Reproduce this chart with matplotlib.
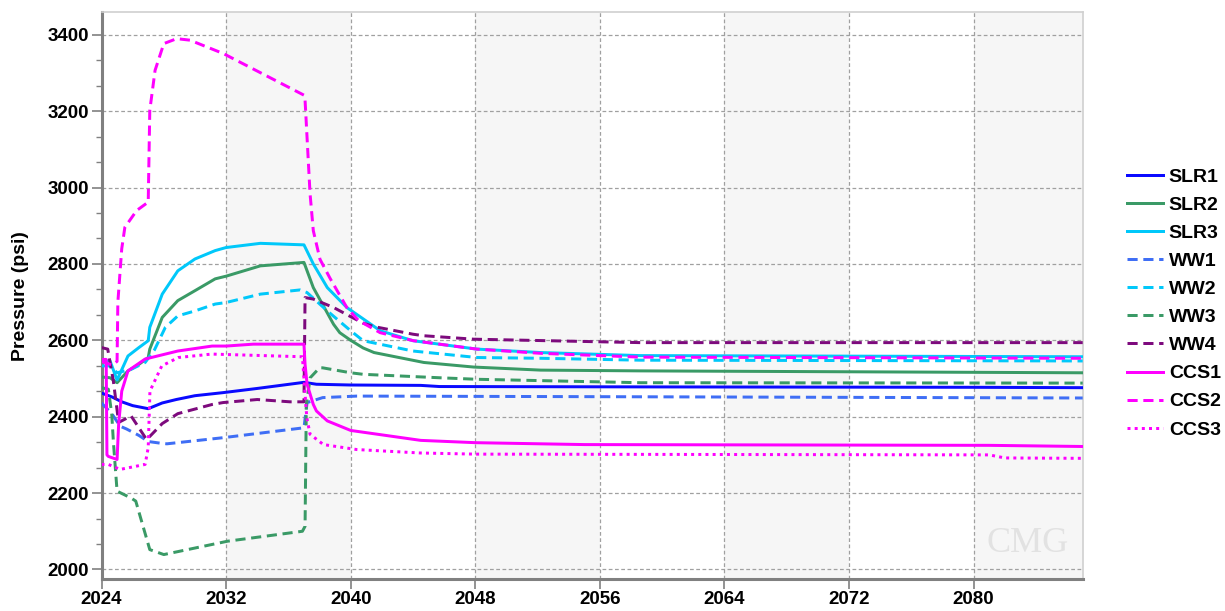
import matplotlib
matplotlib.use("Agg")
import matplotlib.pyplot as plt

plt.rcParams['font.family'] = ['Liberation Sans', 'DejaVu Sans']

# ---------------- data ----------------
slr1_x = [2024.0, 2024.66, 2025.3, 2026.0, 2027.0, 2027.9, 2028.8, 2030.0, 2031.8, 2034.0, 2037.0, 2037.8, 2040.0, 2044.5, 2045.7, 2060, 2080, 2087]
slr1_y = [2462, 2452, 2439, 2429, 2421, 2436, 2445, 2455, 2463, 2474, 2490, 2485, 2483, 2482, 2479, 2478, 2477, 2476]

slr2_x = [2024.0, 2024.55, 2025.0, 2025.7, 2026.4, 2027.0, 2027.1, 2027.9, 2028.9, 2030.0, 2031.3, 2032.0, 2034.2, 2037.0, 2037.6, 2038.9, 2039.3, 2040.0, 2040.8, 2041.5, 2044.7, 2047.9, 2052.2, 2058.6, 2070, 2087]
slr2_y = [2504, 2502, 2489, 2520, 2537, 2555, 2577, 2660, 2704, 2730, 2761, 2768, 2795, 2804, 2738, 2642, 2620, 2600, 2580, 2568, 2542, 2530, 2522, 2520, 2518, 2515]

slr3_x = [2024.0, 2024.55, 2025.0, 2025.7, 2026.4, 2027.0, 2027.1, 2027.9, 2028.9, 2030.0, 2031.3, 2032.0, 2034.2, 2037.0, 2037.6, 2038.5, 2039.75, 2041.9, 2044.0, 2048.1, 2052.2, 2058.6, 2087]
slr3_y = [2546, 2546, 2496, 2559, 2581, 2599, 2634, 2721, 2782, 2813, 2835, 2843, 2854, 2850, 2800, 2738, 2686, 2625, 2599, 2577, 2568, 2560, 2557]

ww1_x = [2024.0, 2024.66, 2025.2, 2025.6, 2026.4, 2027.0, 2027.9, 2028.2, 2031.8, 2037.0, 2037.2, 2038.2, 2040.4, 2060, 2087]
ww1_y = [2436, 2408, 2375, 2368, 2351, 2335, 2330, 2329, 2345, 2371, 2437, 2450, 2454, 2452, 2449]

ww2_x = [2024.0, 2024.55, 2025.0, 2025.9, 2026.8, 2027.4, 2028.1, 2028.9, 2030.0, 2031.3, 2032.0, 2034.2, 2036.75, 2037.2, 2038.5, 2040.0, 2040.8, 2044.0, 2048.1, 2052.2, 2058.6, 2087]
ww2_y = [2533, 2533, 2515, 2524, 2542, 2575, 2634, 2664, 2677, 2695, 2699, 2721, 2732, 2725, 2677, 2625, 2599, 2572, 2555, 2553, 2548, 2546]

ww3_x = [2024.0, 2024.44, 2024.66, 2024.76, 2025.0, 2025.9, 2026.2, 2027.1, 2028.0, 2032.1, 2036.9, 2037.07, 2037.15, 2037.4, 2038.0, 2038.2, 2040.0, 2040.8, 2045.7, 2048.1, 2058.6, 2087]
ww3_y = [2476, 2472, 2406, 2336, 2205, 2187, 2179, 2052, 2039, 2074, 2100, 2113, 2430, 2502, 2528, 2528, 2515, 2511, 2502, 2498, 2489, 2488]

ww4_x = [2024.0, 2024.4, 2024.76, 2025.1, 2025.9, 2026.9, 2027.9, 2028.9, 2031.1, 2031.8, 2034.0, 2036.1, 2037.0, 2037.07, 2037.6, 2038.9, 2040.0, 2040.8, 2041.5, 2044.0, 2044.7, 2047.9, 2058.6, 2087]
ww4_y = [2581, 2577, 2494, 2385, 2402, 2340, 2382, 2408, 2432, 2437, 2445, 2439, 2439, 2712, 2708, 2686, 2662, 2645, 2636, 2616, 2612, 2603, 2594, 2594]

ccs1_x = [2024.0, 2024.3, 2024.35, 2024.44, 2025.0, 2025.1, 2025.3, 2025.7, 2026.8, 2028.9, 2031.1, 2032.0, 2033.75, 2037.0, 2037.07, 2037.2, 2037.6, 2037.8, 2038.5, 2040.0, 2044.5, 2048.0, 2055.0, 2081.0, 2087]
ccs1_y = [2550, 2550, 2300, 2296, 2288, 2380, 2467, 2520, 2551, 2572, 2585, 2585, 2590, 2590, 2537, 2485, 2432, 2415, 2389, 2364, 2338, 2332, 2327, 2325, 2322]

ccs2_x = [2024.0, 2024.7, 2025.0, 2025.05, 2025.3, 2025.5, 2026.26, 2027.0, 2027.1, 2027.44, 2028.0, 2028.83, 2029.68, 2031.82, 2037.0, 2037.07, 2037.39, 2037.6, 2038.03, 2038.68, 2039.75, 2040.5, 2041.89, 2044.03, 2048.1, 2052.2, 2058.6, 2087]
ccs2_y = [2545, 2535, 2545, 2700, 2840, 2896, 2940, 2962, 3202, 3307, 3377, 3390, 3386, 3351, 3242, 3229, 2984, 2887, 2812, 2762, 2686, 2652, 2620, 2599, 2577, 2566, 2556, 2553]

ccs3_x = [2024.0, 2024.44, 2025.2, 2026.8, 2027.0, 2027.11, 2027.87, 2028.93, 2031.08, 2036.9, 2037.18, 2037.39, 2038.25, 2040.39, 2044.46, 2048.0, 2081.0, 2082.0, 2087]
ccs3_y = [2275, 2275, 2262, 2275, 2319, 2467, 2533, 2555, 2564, 2557, 2398, 2354, 2327, 2314, 2305, 2302, 2300, 2292, 2291]

names = ['SLR1', 'SLR2', 'SLR3', 'WW1', 'WW2', 'WW3', 'WW4', 'CCS1', 'CCS2', 'CCS3']
xs = [slr1_x, slr2_x, slr3_x, ww1_x, ww2_x, ww3_x, ww4_x, ccs1_x, ccs2_x, ccs3_x]
ys = [slr1_y, slr2_y, slr3_y, ww1_y, ww2_y, ww3_y, ww4_y, ccs1_y, ccs2_y, ccs3_y]

x_ticks = [2024, 2032, 2040, 2048, 2056, 2064, 2072, 2080]
y_ticks = [2000, 2200, 2400, 2600, 2800, 3000, 3200, 3400]

# ---------------- styles ----------------
colors = ['#0a0aff', '#3a9a66', '#00c8fa', '#3f6ef5', '#00c8fa', '#3a9a66', '#7d0a7d', '#ff00ff', '#ff00ff', '#ff00ff']
DASH = (0, (3.4, 1.9))
DOT = (0, (1, 1.4))
styles = ['-', '-', '-', DASH, DASH, DASH, DASH, '-', DASH, DOT]

fig = plt.figure(figsize=(12.25, 6.11), dpi=100)
ax = fig.add_axes([101.5 / 1225, 1 - 579 / 611, (1082.7 - 101.5) / 1225, (579 - 12.3) / 611])

xmin, xmax = 2024, 2087
ymin, ymax = 1975, 3459
ax.set_xlim(xmin, xmax)
ax.set_ylim(ymin, ymax)

# alternating background bands
for i, t in enumerate(x_ticks):
    if i % 2 == 1:
        ax.axvspan(t, min(t + 8, xmax), color='#f6f6f6', zorder=0, lw=0)

lines = []
for x, y, c, s, n in zip(xs, ys, colors, styles, names):
    ln, = ax.plot(x, y, color=c, linestyle=s, lw=2.15, label=n, zorder=3,
                  solid_joinstyle='round', dash_capstyle='butt')
    lines.append(ln)

ax.set_xticks(x_ticks)
ax.set_yticks(y_ticks)
ax.set_yticks([v for a in y_ticks[:-1] for v in (a + 200 / 3, a + 400 / 3)], minor=True)
ax.grid(True, which='major', color='#a0a0a0', linestyle=(0, (3, 2)), lw=0.9, zorder=1)
ax.set_axisbelow(True)

for side in ['left', 'bottom']:
    ax.spines[side].set_color('#808080')
    ax.spines[side].set_linewidth(2.2)
for side in ['top', 'right']:
    ax.spines[side].set_color('#d0d0d0')
    ax.spines[side].set_linewidth(1.2)

ax.tick_params(axis='both', which='major', length=7, width=1.2, color='#808080',
               labelsize=13.5, pad=2)
ax.tick_params(axis='y', which='minor', length=4, width=1.0, color='#808080')
for lab in ax.get_xticklabels() + ax.get_yticklabels():
    lab.set_fontweight('bold')

ax.set_ylabel('Pressure (psi)', fontsize=14, fontweight='bold', labelpad=13)

# watermark
ax.text(0.944, 0.062, 'CMG', transform=ax.transAxes, ha='center', va='center',
        fontsize=26, color='#e2e2e2', family='Liberation Serif', zorder=2)

fs = 14
leg = fig.legend(handles=lines, labels=names, loc='upper left',
                 bbox_to_anchor=(1127 / 1225, 1 - 168 / 611), frameon=False,
                 prop={'weight': 'bold', 'size': fs}, handlelength=1.85,
                 handletextpad=0.3, labelspacing=0.54, borderpad=0, borderaxespad=0)

fig.savefig('out.png', dpi=100)
